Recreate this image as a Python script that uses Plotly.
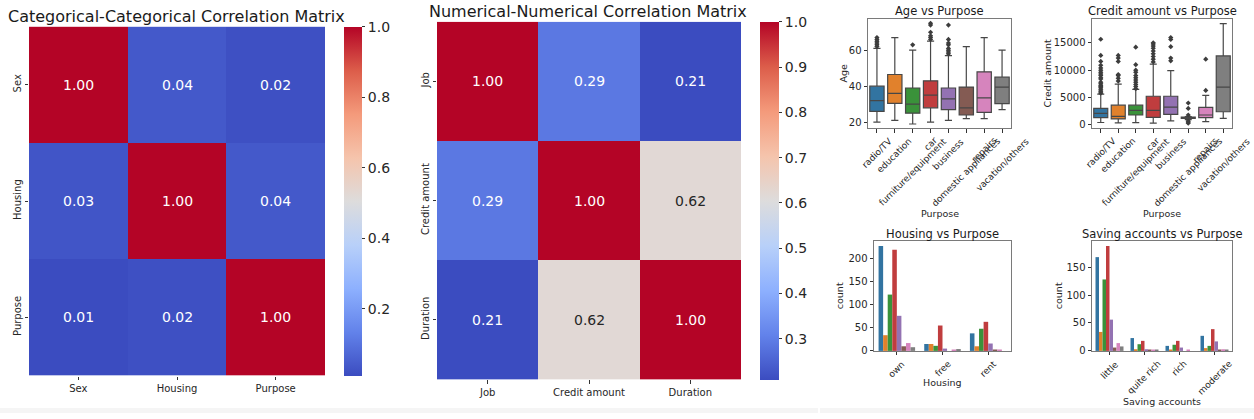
import plotly.graph_objects as go

W, H = 1254, 419
FONT = "DejaVu Sans"

# ---------------- data ----------------
cat_labels = ["Sex", "Housing", "Purpose"]
cat_corr = [[1.00, 0.04, 0.02],
            [0.03, 1.00, 0.04],
            [0.01, 0.02, 1.00]]

num_labels = ["Job", "Credit amount", "Duration"]
num_corr = [[1.00, 0.29, 0.21],
            [0.29, 1.00, 0.62],
            [0.21, 0.62, 1.00]]

purposes = ["radio/TV", "education", "furniture/equipment", "car", "business",
            "domestic appliances", "repairs", "vacation/others"]
palette = ["#3274a1", "#e1812c", "#3a923a", "#c03d3e", "#9372b2",
           "#845b53", "#d684bd", "#7f7f7f"]

# Age vs Purpose box stats
age_low = [20, 21, 19, 20, 21, 22, 22, 27]
age_q1 = [26, 30.5, 25, 28, 27, 24, 25.5, 30.3]
age_med = [32, 36, 30, 35, 33, 28, 33.5, 39.5]
age_q3 = [40, 46.5, 39, 43, 39, 39.5, 48, 45]
age_high = [61, 67, 60, 65, 57, 62, 67, 60]
age_out = [[62, 63, 64, 65, 66, 67],
           [],
           [63],
           [66, 67, 68, 70, 74, 75],
           [58, 59, 60, 61, 63, 64, 66, 74],
           [], [], []]

# Credit amount vs Purpose box stats
cred_low = [430, 360, 420, 300, 720, 960, 600, 1200]
cred_q1 = [1320, 1080, 1800, 1380, 1920, 1200, 1320, 2400]
cred_med = [2100, 1560, 2640, 2650, 3250, 1320, 1800, 6900]
cred_q3 = [3000, 3600, 3600, 5230, 5230, 1440, 3200, 12600]
cred_high = [5600, 7450, 6500, 11100, 9900, 1500, 5400, 18500]
cred_out = [[5800, 6000, 6200, 6500, 6800, 7000, 7200, 7500, 7800, 8400, 8600,
             9000, 9300, 9600, 10000, 10400, 10900, 11600, 12700, 15650],
            [8000, 8500, 9000, 9200, 11600, 12200, 12700],
            [6600, 7000, 7400, 7800, 8200, 8600, 9000, 9600, 10000, 11000, 14200],
            [11500, 12000, 12500, 13000, 13500, 14000, 14400, 14800, 15000],
            [11700, 12200, 14300, 15600, 15950],
            [300, 500, 700, 1800, 3000, 4000],
            [6300, 12000],
            []]

housing_cats = ["own", "free", "rent"]
housing_counts = [[227, 15, 38],   # radio/TV
                  [34, 15, 10],    # education
                  [122, 11, 48],   # furniture/equipment
                  [219, 55, 63],   # car
                  [76, 5, 16],     # business
                  [10, 0, 2],      # domestic appliances
                  [17, 3, 2],      # repairs
                  [8, 4, 0]]       # vacation/others

saving_cats = ["little", "quite rich", "rich", "moderate"]
saving_counts = [[168, 23, 9, 27],
                 [34, 3, 2, 5],
                 [128, 12, 11, 9],
                 [188, 18, 18, 39],
                 [56, 3, 6, 17],
                 [6, 2, 0, 1],
                 [14, 1, 2, 3],
                 [8, 1, 0, 2]]

coolwarm = [[0.0, "#3b4cc0"], [0.125, "#6282ea"], [0.25, "#8db0fe"],
            [0.375, "#b8d0f9"], [0.5, "#dddcdc"], [0.625, "#f5c4ac"],
            [0.75, "#f49a7b"], [0.875, "#dc5d4a"], [1.0, "#b40426"]]


# ---------------- helpers (screen px -> paper fraction) ----------------
def px(x):
    return x / W


def py(y):
    return 1 - y / H


def hexrgb(h):
    h = h.lstrip("#")
    return tuple(int(h[i:i + 2], 16) for i in (0, 2, 4))


def interp_color(t):
    for (a, ca), (b, cb) in zip(coolwarm[:-1], coolwarm[1:]):
        if a <= t <= b:
            f = (t - a) / (b - a) if b > a else 0
            r1, g1, b1 = hexrgb(ca)
            r2, g2, b2 = hexrgb(cb)
            return (r1 + f * (r2 - r1), g1 + f * (g2 - g1), b1 + f * (b2 - b1))
    return hexrgb(coolwarm[-1][1])


def text_color(v, vmin, vmax):
    r, g, b = interp_color((v - vmin) / (vmax - vmin))
    lum = 0.299 * r + 0.587 * g + 0.114 * b
    return "#262626" if lum > 150 else "white"


fig = go.Figure()
annotations = []
AX = "#7a7a7a"
TXT = "#262626"

# ---------------- heatmaps ----------------
heat_specs = [
    ("x", "y", cat_labels, cat_corr, [29, 325], [27, 381], 344, 18,
     "Categorical-Categorical Correlation Matrix", 176, 17, 0.2),
    ("x2", "y2", num_labels, num_corr, [437, 741], [22, 385], 760, 19,
     "Numerical-Numerical Correlation Matrix", 588, 12, 0.1),
]
for xa, ya, labels, mat, xr, yr, cbx, cbw, title, tx, ty, dt in heat_specs:
    vals = [v for row in mat for v in row]
    vmin, vmax = min(vals), max(vals)
    fig.add_trace(go.Heatmap(
        z=mat, x=labels, y=labels, xaxis=xa, yaxis=ya,
        colorscale=coolwarm, zmin=vmin, zmax=vmax, xgap=0, ygap=0,
        hoverinfo="skip",
        colorbar=dict(x=px(cbx), xanchor="left", xpad=0, ypad=0,
                      y=py(yr[0]), yanchor="top", lenmode="fraction",
                      len=(yr[1] - yr[0]) / H, thickness=cbw,
                      outlinewidth=0, dtick=dt, tickformat=".1f",
                      ticks="outside", ticklen=3.5, tickcolor="#333",
                      tickfont=dict(family=FONT, size=14, color=TXT)),
    ))
    lay = {}
    lay["xaxis" if xa == "x" else "xaxis2"] = dict(
        domain=[px(xr[0]), px(xr[1])], anchor=ya, showgrid=False, zeroline=False,
        ticks="outside", ticklen=3.5, tickcolor="#333",
        tickfont=dict(family=FONT, size=10, color=TXT), showline=False)
    lay["yaxis" if ya == "y" else "yaxis2"] = dict(
        domain=[py(yr[1]), py(yr[0])], anchor=xa, showgrid=False, zeroline=False,
        autorange="reversed", ticks="outside", ticklen=3.5, tickcolor="#333",
        tickangle=-90, tickfont=dict(family=FONT, size=10, color=TXT), showline=False)
    fig.update_layout(**lay)
    for i, rl in enumerate(labels):
        for j, cl in enumerate(labels):
            v = mat[i][j]
            annotations.append(dict(x=cl, y=rl, xref=xa, yref=ya, text=f"{v:.2f}",
                                    showarrow=False,
                                    font=dict(family=FONT, size=14,
                                              color=text_color(v, vmin, vmax))))
    annotations.append(dict(x=px(tx), y=py(ty), xref="paper", yref="paper",
                            text=title, showarrow=False, xanchor="center",
                            yanchor="middle",
                            font=dict(family=FONT, size=16, color="#1a1a1a")))

# ---------------- small plots ----------------
small = {
    "box1": dict(xa="x3", ya="y3", xr=[868, 1011], yr=[19, 130]),
    "box2": dict(xa="x4", ya="y4", xr=[1092, 1232], yr=[19, 130]),
    "bar1": dict(xa="x5", ya="y5", xr=[874, 1011], yr=[245, 356]),
    "bar2": dict(xa="x6", ya="y6", xr=[1092, 1232], yr=[245, 356]),
}

box_sets = [("box1", age_low, age_q1, age_med, age_q3, age_high, age_out),
            ("box2", cred_low, cred_q1, cred_med, cred_q3, cred_high, cred_out)]
for key, lo, q1, med, q3, hi, out in box_sets:
    s = small[key]
    for i, p in enumerate(purposes):
        fig.add_trace(go.Box(
            x=[p], q1=[q1[i]], median=[med[i]], q3=[q3[i]],
            lowerfence=[lo[i]], upperfence=[hi[i]],
            xaxis=s["xa"], yaxis=s["ya"], fillcolor=palette[i],
            line=dict(color="#474747", width=1.2), width=0.8, whiskerwidth=0.5,
            boxpoints=False, showlegend=False, hoverinfo="skip"))
        if out[i]:
            fig.add_trace(go.Scatter(
                x=[p] * len(out[i]), y=out[i], mode="markers",
                xaxis=s["xa"], yaxis=s["ya"], showlegend=False, hoverinfo="skip",
                marker=dict(symbol="diamond", size=4, color="#3d3d3d")))

bar_sets = [("bar1", housing_cats, housing_counts),
            ("bar2", saving_cats, saving_counts)]
for key, cats, counts in bar_sets:
    s = small[key]
    for i, p in enumerate(purposes):
        fig.add_trace(go.Bar(
            x=cats, y=counts[i], xaxis=s["xa"], yaxis=s["ya"],
            marker=dict(color=palette[i], line=dict(width=0)),
            offsetgroup=str(i), showlegend=False, hoverinfo="skip"))

small_cfg = [
    ("box1", purposes, [16.7, 77.5], [20, 40, 60], "Age vs Purpose", "Purpose", 217,
     "Age", 843),
    ("box2", purposes, [-600, 19400], [0, 5000, 10000, 15000], "Credit amount vs Purpose",
     "Purpose", 217, "Credit amount", 1047),
    ("bar1", housing_cats, [0, 237], [0, 50, 100, 150, 200], "Housing vs Purpose",
     "Housing", 388, "count", 839),
    ("bar2", saving_cats, [0, 196], [0, 50, 100, 150], "Saving accounts vs Purpose",
     "Saving accounts", 407, "count", 1058),
]
SF = 9
for key, cats, yrng, ytv, title, xtitle, xty, ytitle, ytx in small_cfg:
    s = small[key]
    xn = "xaxis" + s["xa"][1:]
    yn = "yaxis" + s["ya"][1:]
    fig.update_layout(**{
        xn: dict(domain=[px(s["xr"][0]), px(s["xr"][1])], anchor=s["ya"],
                 type="category", categoryorder="array", categoryarray=cats,
                 range=[-0.5, len(cats) - 0.5], showgrid=False, zeroline=False,
                 showline=True, linecolor=AX, linewidth=1, mirror=True,
                 ticks="outside", ticklen=3.5, tickcolor="#333", showticklabels=False),
        yn: dict(domain=[py(s["yr"][1]), py(s["yr"][0])], anchor=s["xa"],
                 range=yrng, tickvals=ytv, tickformat="d", showgrid=False,
                 zeroline=False, showline=True, linecolor=AX, linewidth=1, mirror=True,
                 ticks="outside", ticklen=3.5, tickcolor="#333",
                 tickfont=dict(family=FONT, size=SF + 1, color=TXT)),
    })
    for c in cats:
        annotations.append(dict(x=c, y=0, xref=s["xa"], yref=s["ya"] + " domain",
                                text=c, textangle=-45, showarrow=False,
                                xanchor="center", yanchor="top", yshift=-5,
                                font=dict(family=FONT, size=SF, color=TXT)))
    cx = (s["xr"][0] + s["xr"][1]) / 2
    annotations.append(dict(x=px(cx), y=py(s["yr"][0] - 8), xref="paper", yref="paper",
                            text=title, showarrow=False, xanchor="center",
                            yanchor="middle",
                            font=dict(family=FONT, size=11.5, color="#1a1a1a")))
    annotations.append(dict(x=px(cx), y=py(xty), xref="paper", yref="paper",
                            text=xtitle, showarrow=False, xanchor="center",
                            yanchor="middle",
                            font=dict(family=FONT, size=SF + 0.5, color=TXT)))
    annotations.append(dict(x=px(ytx), y=py((s["yr"][0] + s["yr"][1]) / 2),
                            xref="paper", yref="paper", text=ytitle, textangle=-90,
                            showarrow=False, xanchor="center", yanchor="middle",
                            font=dict(family=FONT, size=SF + 0.5, color=TXT)))

fig.update_layout(
    width=W, height=H, margin=dict(l=0, r=0, t=0, b=0),
    paper_bgcolor="white", plot_bgcolor="white",
    barmode="group", bargap=0.2, bargroupgap=0, boxmode="overlay",
    annotations=annotations, showlegend=False, hovermode=False,
    shapes=[dict(type="rect", xref="paper", yref="paper", x0=0, x1=px(818),
                 y0=0, y1=py(414), fillcolor="#f5f5f5", line=dict(width=0), layer="below"),
            dict(type="rect", xref="paper", yref="paper", x0=px(820), x1=1,
                 y0=0, y1=py(414), fillcolor="#f5f5f5", line=dict(width=0), layer="below")],
)

fig.write_html("out.html",
               config={"displayModeBar": False},
               post_script="document.body.style.margin='0';"
                           "document.body.style.overflow='hidden';")
